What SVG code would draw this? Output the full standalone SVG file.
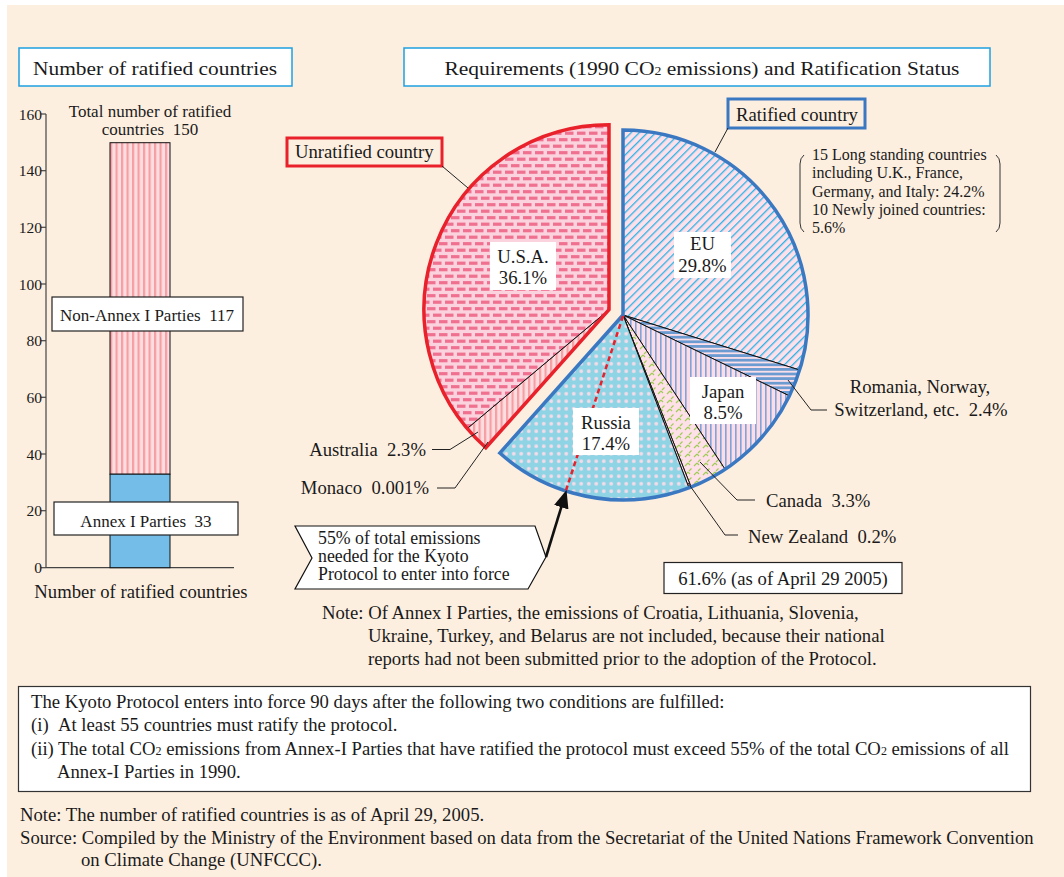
<svg xmlns="http://www.w3.org/2000/svg" width="1064" height="877" viewBox="0 0 1064 877">
<style>
.t{font-family:"Liberation Serif","Times New Roman",serif;font-size:18.7px;fill:#1a1a1a}
.ax{font-size:15.5px}
.sm{font-size:17px}
.br{font-size:16px}
.co{font-size:17.8px}
.c{text-anchor:middle}
.e{text-anchor:end}
.lead{stroke:#222;stroke-width:1;fill:none}
.sl{stroke:#111;stroke-width:1;stroke-linejoin:round}
.wbox{fill:#fff;stroke:#222;stroke-width:1.2}
.lbl{fill:#fff}
</style>
<defs>
<pattern id="pStripe" width="5.5" height="10" patternUnits="userSpaceOnUse">
<rect width="5.5" height="10" fill="#fddde0"/>
<rect x="0" width="2.2" height="10" fill="#f59ea3"/>
</pattern>
<pattern id="pUSA" width="12" height="13" patternUnits="userSpaceOnUse">
<rect width="12" height="13" fill="#fad3de"/>
<rect x="1" y="1.6" width="8.5" height="3.2" fill="#f07090"/>
<rect x="7" y="8.1" width="5" height="3.2" fill="#f07090"/>
<rect x="0" y="8.1" width="3.5" height="3.2" fill="#f07090"/>
</pattern>
<pattern id="pEU" width="5.8" height="10" patternUnits="userSpaceOnUse" patternTransform="rotate(45)">
<rect width="5.8" height="10" fill="#fde0ea"/>
<rect x="0" width="1.3" height="10" fill="#2bb4e6"/>
</pattern>
<pattern id="pRom" width="10" height="4.6" patternUnits="userSpaceOnUse">
<rect width="10" height="4.6" fill="#fde0ea"/>
<rect y="0" width="10" height="2.8" fill="#6b9bd0"/>
</pattern>
<pattern id="pJap" width="5" height="10" patternUnits="userSpaceOnUse">
<rect width="5" height="10" fill="#fcdde6"/>
<rect x="0" width="1.6" height="10" fill="#7fa3da"/>
</pattern>
<pattern id="pCan" width="9" height="9" patternUnits="userSpaceOnUse">
<rect width="9" height="9" fill="#fde0e8"/>
<path d="M1,7 L4,4 M5,3 L7.5,0.5 M4,4 L6,6" stroke="#9fcc52" stroke-width="1.1" fill="none"/>
</pattern>
<pattern id="pRus" width="7.5" height="7.5" patternUnits="userSpaceOnUse">
<rect width="7.5" height="7.5" fill="#8fd4e5"/>
<circle cx="3.75" cy="3.75" r="1.9" fill="#f7dbe8"/>
</pattern>
<marker id="ah" markerUnits="userSpaceOnUse" markerWidth="20" markerHeight="16" refX="8" refY="7.5" orient="auto">
<path d="M0,0 L18,7.5 L0,15 Z" fill="#111"/>
</marker>
</defs>

<rect width="1064" height="877" fill="#fff"/>
<rect x="7" y="5" width="1057" height="872" fill="#fdefe0"/>

<g id="title-left">
<rect x="19" y="48" width="273" height="38" fill="#fff" stroke="#1ea0e0" stroke-width="1.5"/>
<text class="t" x="155" y="75" text-anchor="middle" textLength="244" lengthAdjust="spacingAndGlyphs">Number of ratified countries</text>
</g>
<g id="title-right">
<rect x="404" y="48" width="586" height="38" fill="#fff" stroke="#1ea0e0" stroke-width="1.5"/>
<text class="t" x="702" y="75" text-anchor="middle" textLength="515" lengthAdjust="spacingAndGlyphs">Requirements (1990 CO<tspan font-size="12">2</tspan> emissions) and Ratification Status</text>
</g>

<g id="bar-chart">
<line x1="46" y1="114" x2="46" y2="568" stroke="#444" stroke-width="1.2"/>
<line x1="46" y1="567.7" x2="234" y2="567.7" stroke="#444" stroke-width="1.2"/>
<g stroke="#444" stroke-width="1.2">
<line x1="41" y1="114" x2="46" y2="114"/><line x1="41" y1="170.7" x2="46" y2="170.7"/>
<line x1="41" y1="227.3" x2="46" y2="227.3"/><line x1="41" y1="284" x2="46" y2="284"/>
<line x1="41" y1="340.7" x2="46" y2="340.7"/><line x1="41" y1="397.3" x2="46" y2="397.3"/>
<line x1="41" y1="454" x2="46" y2="454"/><line x1="41" y1="510.7" x2="46" y2="510.7"/>
<line x1="41" y1="567.7" x2="46" y2="567.7"/>
</g>
<g class="t ax e">
<text x="42" y="119.5">160</text><text x="42" y="176">140</text><text x="42" y="233">120</text>
<text x="42" y="289.5">100</text><text x="42" y="346">80</text><text x="42" y="403">60</text>
<text x="42" y="459.5">40</text><text x="42" y="516">20</text><text x="42" y="573">0</text>
</g>
<rect x="110" y="142.7" width="60" height="331.5" fill="url(#pStripe)" stroke="#111" stroke-width="1"/>
<rect x="110" y="474.2" width="60" height="93.5" fill="#73bde8" stroke="#111" stroke-width="1"/>
<text class="t sm c" x="150" y="117">Total number of ratified</text>
<text class="t sm c" x="150" y="135" xml:space="preserve">countries  150</text>
<text class="t c" x="141" y="598">Number of ratified countries</text>
</g>
<g id="non-annex-box">
<rect class="wbox" x="52" y="297" width="191" height="34"/>
<text class="t sm c" x="147" y="321" xml:space="preserve">Non-Annex I Parties  117</text>
</g>
<g id="annex-box">
<rect class="wbox" x="54" y="502" width="184" height="33"/>
<text class="t sm c" x="146" y="526.5" xml:space="preserve">Annex I Parties  33</text>
</g>

<g id="pie-ratified">
<path id="eu" class="sl" fill="url(#pEU)" d="M623,315 L623,130 A185,185 0 0 1 799.6,370 Z"/>
<path id="romania" class="sl" fill="url(#pRom)" d="M623,315 L799.6,370 A185,185 0 0 1 789.4,395.9 Z"/>
<path id="japan" class="sl" fill="url(#pJap)" d="M623,315 L789.4,395.9 A185,185 0 0 1 725.1,469.3 Z"/>
<path id="canada" class="sl" fill="url(#pCan)" d="M623,315 L725.1,469.3 A185,185 0 0 1 691.1,487 Z"/>
<path id="newzealand" class="sl" fill="#fde0e8" d="M623,315 L691.1,487 A185,185 0 0 1 688.9,487.8 Z"/>
<path id="russia" class="sl" fill="url(#pRus)" d="M623,315 L688.9,487.8 A185,185 0 0 1 499.8,453 Z"/>
<path d="M623,315 L623,130 A185,185 0 1 1 499.8,453 Z" fill="none" stroke="#3b78c2" stroke-width="3.5" stroke-linejoin="miter"/>
</g>
<g id="pie-unratified">
<path id="australia" class="sl" fill="url(#pStripe)" d="M609,309.7 L485.8,447.7 A185,185 0 0 1 467.2,428.5 Z"/>
<path id="usa" class="sl" fill="url(#pUSA)" d="M609,309.7 L467.2,428.5 A185,185 0 0 1 609,124.7 Z"/>
<path d="M609,309.7 L485.8,447.7 A185,185 0 0 1 609,124.7 Z" fill="none" stroke="#e8212b" stroke-width="3.5" stroke-linejoin="miter"/>
</g>
<line id="line-55" x1="623" y1="316" x2="565.8" y2="491" stroke="#e8212b" stroke-width="2.5" stroke-dasharray="5,3.5"/>

<g id="label-usa">
<rect class="lbl" x="490" y="242" width="66" height="48"/>
<text class="t c" x="523" y="263">U.S.A.</text>
<text class="t c" x="523" y="284">36.1%</text>
</g>
<g id="label-eu">
<rect class="lbl" x="674" y="232" width="57" height="46"/>
<text class="t c" x="702.5" y="250">EU</text>
<text class="t c" x="702.5" y="271.5">29.8%</text>
</g>
<g id="label-japan">
<rect class="lbl" x="690" y="377" width="66" height="47"/>
<text class="t c" x="723" y="398">Japan</text>
<text class="t c" x="723" y="418.5">8.5%</text>
</g>
<g id="label-russia">
<rect class="lbl" x="573" y="408" width="66" height="47"/>
<text class="t c" x="606" y="428.5">Russia</text>
<text class="t c" x="606" y="450">17.4%</text>
</g>

<g id="unratified-box">
<rect x="287" y="138" width="155" height="28" fill="#fdefe0" stroke="#e8212b" stroke-width="3"/>
<text class="t" x="295" y="158">Unratified country</text>
</g>
<g id="ratified-box">
<rect x="728" y="99" width="137" height="29" fill="#fdefe0" stroke="#3b78c2" stroke-width="3"/>
<text class="t" x="736" y="120.5">Ratified country</text>
</g>
<g id="eu-breakdown">
<path d="M804,155 Q800,158 800,164 L800,223 Q800,229 804,232" fill="none" stroke="#333" stroke-width="1"/>
<path d="M996,155 Q1000,158 1000,164 L1000,223 Q1000,229 996,232" fill="none" stroke="#333" stroke-width="1"/>
<text class="t br" x="812" y="160">15 Long standing countries</text>
<text class="t br" x="812" y="178.3">including U.K., France,</text>
<text class="t br" x="812" y="196.6">Germany, and Italy: 24.2%</text>
<text class="t br" x="812" y="214.9">10 Newly joined countries:</text>
<text class="t br" x="812" y="233.2">5.6%</text>
</g>
<g id="label-romania">
<text class="t c" x="920" y="393">Romania, Norway,</text>
<text class="t c" x="921" y="415.5" xml:space="preserve">Switzerland, etc.  2.4%</text>
</g>
<g id="label-canada"><text class="t" x="766" y="507" xml:space="preserve">Canada  3.3%</text></g>
<g id="label-nz"><text class="t" x="748" y="542.5" xml:space="preserve">New Zealand  0.2%</text></g>
<g id="label-australia"><text class="t e" x="426" y="456" xml:space="preserve">Australia  2.3%</text></g>
<g id="label-monaco"><text class="t e" x="429" y="493.5" xml:space="preserve">Monaco  0.001%</text></g>
<g id="total-box">
<rect class="wbox" x="664" y="562.5" width="238" height="31"/>
<text class="t c" x="783" y="584.5">61.6% (as of April 29 2005)</text>
</g>
<g id="callout-55">
<path d="M295,526 L535,526 L546,557 L528,589 L295,589 L312,558 Z" fill="#fff" stroke="#111" stroke-width="1.2"/>
<text class="t co" x="318" y="543.5">55% of total emissions</text>
<text class="t co" x="318" y="561.7">needed for the Kyoto</text>
<text class="t co" x="318" y="580">Protocol to enter into force</text>
</g>

<g id="connectors">
<path class="lead" d="M442,166 L468,188"/>
<path class="lead" d="M728,128 L715,152"/>
<path class="lead" d="M788,380 L811,410 L827,410"/>
<path class="lead" d="M700,462 L737,500 L755,500"/>
<path class="lead" d="M688,483 L725,535 L738,535"/>
<path class="lead" d="M432,449.5 L450,449.5 L478,432"/>
<path class="lead" d="M437,488 L455,488 L488,442"/>
<line x1="546" y1="557" x2="563.6" y2="499.6" stroke="#111" stroke-width="2.6" marker-end="url(#ah)"/>
</g>

<g id="note-annex">
<text class="t" x="322" y="619">Note: Of Annex I Parties, the emissions of Croatia, Lithuania, Slovenia,</text>
<text class="t" x="368" y="642">Ukraine, Turkey, and Belarus are not included, because their national</text>
<text class="t" x="368" y="665">reports had not been submitted prior to the adoption of the Protocol.</text>
</g>
<g id="conditions-box">
<rect x="18.5" y="686.5" width="1012" height="105" fill="#fff" stroke="#333" stroke-width="1.2"/>
<text class="t" x="31" y="707.5">The Kyoto Protocol enters into force 90 days after the following two conditions are fulfilled:</text>
<text class="t" x="31" y="731">(i)</text>
<text class="t" x="58" y="731">At least 55 countries must ratify the protocol.</text>
<text class="t" x="31" y="754.5">(ii)</text>
<text class="t" x="58" y="754.5">The total CO<tspan font-size="12">2</tspan> emissions from Annex-I Parties that have ratified the protocol must exceed 55% of the total CO<tspan font-size="12">2</tspan> emissions of all</text>
<text class="t" x="57" y="778">Annex-I Parties in 1990.</text>
</g>
<g id="source-notes">
<text class="t" x="20" y="820.5">Note: The number of ratified countries is as of April 29, 2005.</text>
<text class="t" x="20" y="843.5">Source: Compiled by the Ministry of the Environment based on data from the Secretariat of the United Nations Framework Convention</text>
<text class="t" x="81" y="866">on Climate Change (UNFCCC).</text>
</g>
</svg>
